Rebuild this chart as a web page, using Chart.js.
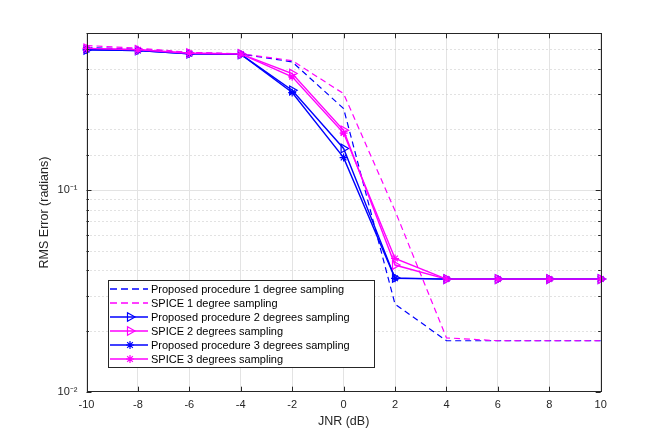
<!DOCTYPE html>
<html><head><meta charset="utf-8">
<script src="https://cdn.jsdelivr.net/npm/chart.js@4.4.1/dist/chart.umd.min.js"></script>
<style>html,body{margin:0;padding:0;background:#fff;}#wrap{width:664px;height:441px;}</style>
</head><body><div id="wrap"><canvas id="c" width="664" height="441"></canvas></div>
<script>
const jnr = [-10, -8, -6, -4, -2, 0, 2, 4, 6, 8, 10];
const proposed1 = [0.510, 0.500, 0.480, 0.474, 0.433, 0.254, 0.0272, 0.0179, 0.0179, 0.0179, 0.0179];
const spice1    = [0.522, 0.506, 0.483, 0.475, 0.439, 0.301, 0.0790, 0.0185, 0.0179, 0.0179, 0.0179];
const proposed2 = [0.497, 0.493, 0.475, 0.472, 0.313, 0.161, 0.0367, 0.0362, 0.0362, 0.0362, 0.0362];
const spice2    = [0.505, 0.497, 0.478, 0.474, 0.379, 0.198, 0.0425, 0.0362, 0.0362, 0.0362, 0.0362];
const proposed3 = [0.497, 0.493, 0.475, 0.472, 0.305, 0.145, 0.0365, 0.0362, 0.0362, 0.0362, 0.0362];
const spice3    = [0.505, 0.497, 0.478, 0.474, 0.365, 0.192, 0.0458, 0.0362, 0.0362, 0.0362, 0.0362];
const seriesNames = [
  'Proposed procedure 1 degree sampling',
  'SPICE 1 degree sampling',
  'Proposed procedure 2 degrees sampling',
  'SPICE 2 degrees sampling',
  'Proposed procedure 3 degrees sampling',
  'SPICE 3 degrees sampling'
];
const xTickValues = [-10, -8, -6, -4, -2, 0, 2, 4, 6, 8, 10];
const yDecadeLabels = {'-2': '10\u207B\u00B2', '-1': '10\u207B\u00B9'};
const xTitle = 'JNR (dB)';
const yTitle = 'RMS Error (radians)';

const BLUE = '#0000ff', MAG = '#ff00ff', AX = '#262626';
const FONT = "'Liberation Sans', Arial, Helvetica, sans-serif";

function pts(ys){ return jnr.map((x,i)=>({x:x, y:ys[i]})); }
function isDecade(v){ const l = Math.log10(v); return Math.abs(l - Math.round(l)) < 1e-6; }

const datasets = [
  {label: seriesNames[0], data: pts(proposed1), borderColor: BLUE, borderWidth: 1.2, borderDash: [6,4], pointRadius: 0, order: 6},
  {label: seriesNames[1], data: pts(spice1), borderColor: MAG, borderWidth: 1.2, borderDash: [6,4], pointRadius: 0, order: 5},
  {label: seriesNames[2], data: pts(proposed2), borderColor: BLUE, borderWidth: 1.4, pointStyle: 'triangle', pointRotation: 90, pointRadius: 5, pointBorderWidth: 1.2, pointBorderColor: BLUE, pointBackgroundColor: 'rgba(0,0,0,0)', order: 4},
  {label: seriesNames[3], data: pts(spice2), borderColor: MAG, borderWidth: 1.4, pointStyle: 'triangle', pointRotation: 90, pointRadius: 5, pointBorderWidth: 1.2, pointBorderColor: MAG, pointBackgroundColor: 'rgba(0,0,0,0)', order: 3},
  {label: seriesNames[4], data: pts(proposed3), borderColor: BLUE, borderWidth: 1.4, pointStyle: 'star', pointRadius: 4, pointBorderWidth: 1.2, pointBorderColor: BLUE, pointBackgroundColor: BLUE, order: 2},
  {label: seriesNames[5], data: pts(spice3), borderColor: MAG, borderWidth: 1.4, pointStyle: 'star', pointRadius: 4, pointBorderWidth: 1.2, pointBorderColor: MAG, pointBackgroundColor: MAG, order: 1}
].map(d => Object.assign({fill: false, tension: 0, clip: false, pointHoverRadius: d.pointRadius}, d));

const framePlugin = {
  id: 'frame',
  beforeDatasetsDraw(chart){
    const {ctx, chartArea: a, scales: {y}} = chart;
    ctx.save();
    ctx.strokeStyle = '#c4c4c4'; ctx.lineWidth = 1; ctx.setLineDash([1, 3]);
    y.ticks.forEach(t => {
      if (isDecade(t.value) || t.value >= y.max - 1e-9) return;
      const py = Math.round(y.getPixelForValue(t.value)) + 0.5;
      ctx.beginPath(); ctx.moveTo(a.left, py); ctx.lineTo(a.right, py); ctx.stroke();
    });
    ctx.restore();
  },
  afterDatasetsDraw(chart){
    const {ctx, chartArea: a, scales: {x, y}} = chart;
    ctx.save();
    ctx.strokeStyle = AX; ctx.lineWidth = 1; ctx.setLineDash([]);
    ctx.strokeRect(Math.round(a.left)+0.5, Math.round(a.top)+0.5, Math.round(a.right-a.left), Math.round(a.bottom-a.top));
    ctx.beginPath();
    xTickValues.forEach(v => {
      const px = Math.round(x.getPixelForValue(v)) + 0.5;
      ctx.moveTo(px, a.bottom); ctx.lineTo(px, a.bottom - 5);
      ctx.moveTo(px, a.top); ctx.lineTo(px, a.top + 5);
    });
    y.ticks.forEach(t => {
      const py = Math.round(y.getPixelForValue(t.value)) + 0.5;
      const len = isDecade(t.value) ? 5 : 2.5;
      ctx.moveTo(a.left, py); ctx.lineTo(a.left + len, py);
      ctx.moveTo(a.right, py); ctx.lineTo(a.right - len, py);
    });
    ctx.stroke();
    ctx.restore();
  },
  afterDraw(chart){
    const {ctx} = chart;
    const bx = 108.5, by = 280.5, bw = 266, bh = 87, rowH = 14, row0 = 289;
    ctx.save();
    ctx.setLineDash([]);
    ctx.fillStyle = '#fff'; ctx.fillRect(bx, by, bw, bh);
    ctx.strokeStyle = AX; ctx.lineWidth = 1; ctx.strokeRect(bx, by, bw, bh);
    chart.data.datasets.forEach((d, i) => {
      const yy = row0 + i * rowH;
      ctx.save();
      ctx.strokeStyle = d.borderColor; ctx.lineWidth = 1.4;
      ctx.setLineDash(d.borderDash ? [7, 4] : []);
      ctx.beginPath(); ctx.moveTo(110, yy); ctx.lineTo(148, yy); ctx.stroke();
      ctx.restore();
      if (d.pointRadius > 0) {
        ctx.save();
        ctx.setLineDash([]);
        ctx.strokeStyle = d.pointBorderColor; ctx.fillStyle = d.pointBackgroundColor; ctx.lineWidth = d.pointBorderWidth;
        Chart.helpers.drawPoint(ctx, {pointStyle: d.pointStyle, rotation: d.pointRotation || 0, radius: d.pointRadius, borderWidth: d.pointBorderWidth}, 130, yy);
        ctx.restore();
      }
      ctx.fillStyle = '#000'; ctx.font = '11px ' + FONT; ctx.textBaseline = 'middle'; ctx.textAlign = 'left';
      ctx.fillText(d.label, 151, yy + 0.5);
    });
    ctx.restore();
  }
};

new Chart(document.getElementById('c'), {
  type: 'line',
  data: {datasets},
  options: {
    responsive: false, animation: false, devicePixelRatio: 1,
    layout: {padding: {left: 0, top: 33.3, right: 63.3, bottom: 0}},
    plugins: {legend: {display: false}, tooltip: {enabled: false}},
    scales: {
      x: {
        type: 'linear', min: -10, max: 10,
        afterFit: s => { s.height = 49.3; },
        afterBuildTicks: s => { s.ticks = xTickValues.map(v => ({value: v})); },
        ticks: {stepSize: 2, padding: 7, color: AX, font: {family: FONT, size: 11}, maxRotation: 0},
        grid: {color: '#e3e3e3', lineWidth: 1, drawTicks: false},
        border: {display: false},
        title: {display: true, text: xTitle, color: AX, font: {family: FONT, size: 12.5}, padding: {top: 11.8, bottom: 11.8}}
      },
      y: {
        type: 'logarithmic', min: 0.01, max: 0.6,
        afterFit: s => { s.width = 86.5; },
        ticks: {
          padding: 9, color: AX, font: {family: FONT, size: 11}, autoSkip: false,
          callback: v => isDecade(v) ? (yDecadeLabels[String(Math.round(Math.log10(v)))] || '') : ''
        },
        grid: {color: c => (c.tick && isDecade(c.tick.value)) ? '#e3e3e3' : 'rgba(0,0,0,0)', lineWidth: 1, drawTicks: false},
        border: {display: false},
        title: {display: true, text: yTitle, color: AX, font: {family: FONT, size: 12.5}, padding: {top: 37.5, bottom: 37.5}}
      }
    }
  },
  plugins: [framePlugin]
});
</script></body></html>
